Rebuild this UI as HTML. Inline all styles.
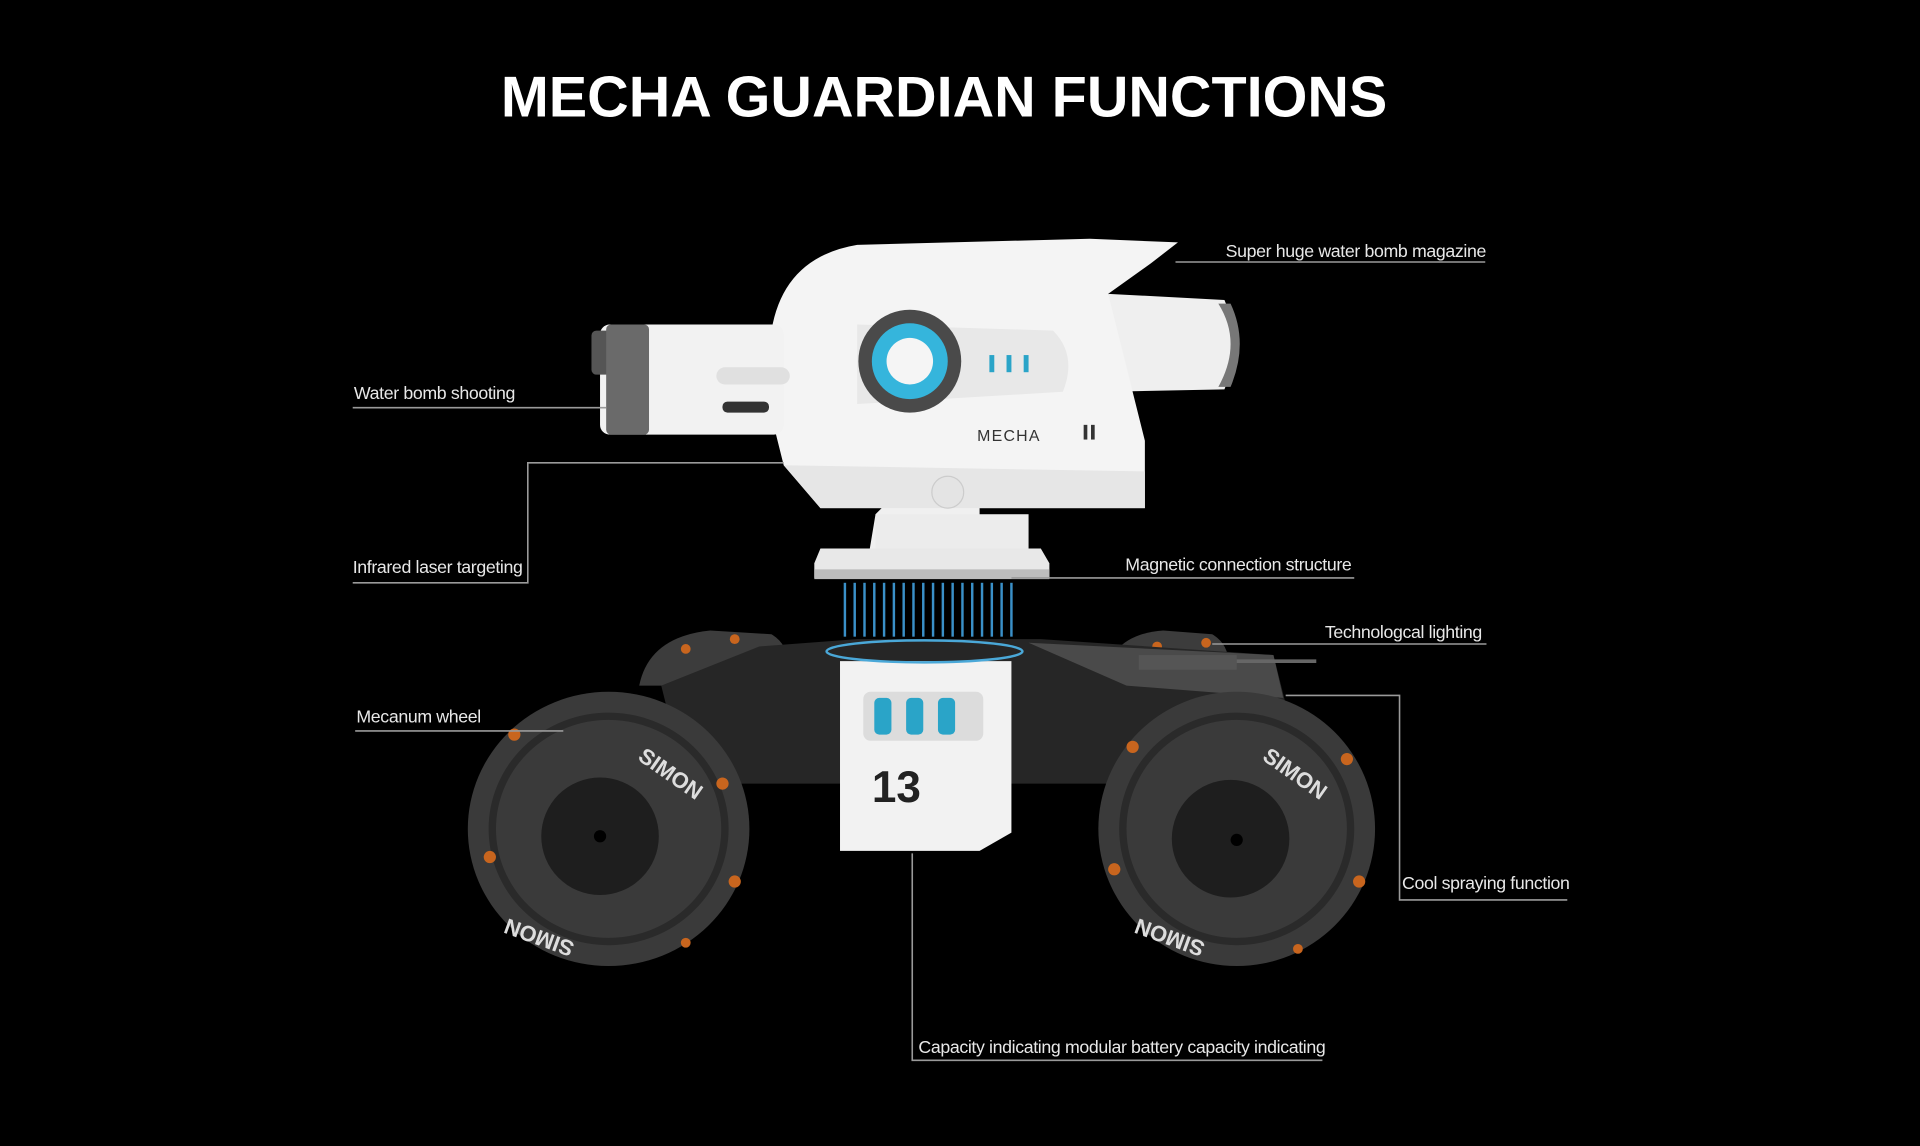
<!DOCTYPE html>
<html><head><meta charset="utf-8"><style>
html,body{margin:0;padding:0;background:#000;}
svg{display:block;}
.lb{font-family:"Liberation Sans",sans-serif;font-size:14.5px;fill:#e8e8e8;letter-spacing:-0.3px;}
.ln{stroke:#9a9a9a;stroke-width:1.3;fill:none;}
</style></head><body>
<svg width="1920" height="1146" viewBox="0 0 1568 936" xmlns="http://www.w3.org/2000/svg">
<rect width="1568" height="936" fill="#000"/>
<text x="771" y="95" text-anchor="middle" font-family="Liberation Sans,sans-serif" font-weight="bold" font-size="47" fill="#fff" letter-spacing="0">MECHA GUARDIAN FUNCTIONS</text>

<!-- back wheels -->
<path d="M522,560 Q530,520 580,515 L630,518 Q650,530 640,560 Z" fill="#3c3c3c"/>
<path d="M900,560 Q905,518 950,515 L990,518 Q1010,530 1000,560 Z" fill="#3c3c3c"/>
<circle cx="560" cy="530" r="4" fill="#c8651e"/><circle cx="600" cy="522" r="4" fill="#c8651e"/>
<circle cx="945" cy="528" r="4" fill="#c8651e"/><circle cx="985" cy="525" r="4" fill="#c8651e"/>
<!-- chassis -->
<path d="M540,560 L620,528 L700,522 L850,522 L1040,535 L1050,575 L1000,640 L560,640 Z" fill="#262626"/>
<path d="M840,525 L1040,535 L1048,570 L920,560 Z" fill="#4a4a4a"/>
<rect x="930" y="535" width="80" height="12" fill="#555"/>
<path d="M1010,540 L1075,540" stroke="#666" stroke-width="3"/>
<!-- wheels -->
<g>
<ellipse cx="497" cy="677" rx="115" ry="112" fill="#3a3a3a"/>
<ellipse cx="497" cy="677" rx="95" ry="92" fill="none" stroke="#2a2a2a" stroke-width="6"/>
<circle cx="490" cy="683" r="48" fill="#1e1e1e"/>
<circle cx="490" cy="683" r="5" fill="#000"/>
<circle cx="420" cy="600" r="5" fill="#c8651e"/><circle cx="590" cy="640" r="5" fill="#c8651e"/><circle cx="600" cy="720" r="5" fill="#c8651e"/><circle cx="400" cy="700" r="5" fill="#c8651e"/><circle cx="560" cy="770" r="4" fill="#c8651e"/>
<text x="520" y="620" font-family="Liberation Sans,sans-serif" font-size="18" font-weight="bold" fill="#ddd" transform="rotate(35 520 620)">SIMON</text>
<text x="470" y="770" font-family="Liberation Sans,sans-serif" font-size="18" font-weight="bold" fill="#ddd" transform="rotate(200 470 770)">SIMON</text>
</g>
<g>
<ellipse cx="1010" cy="677" rx="113" ry="112" fill="#3a3a3a"/>
<ellipse cx="1010" cy="677" rx="93" ry="92" fill="none" stroke="#2a2a2a" stroke-width="6"/>
<circle cx="1005" cy="685" r="48" fill="#1e1e1e"/>
<circle cx="1010" cy="686" r="5" fill="#000"/>
<circle cx="925" cy="610" r="5" fill="#c8651e"/><circle cx="1100" cy="620" r="5" fill="#c8651e"/><circle cx="1110" cy="720" r="5" fill="#c8651e"/><circle cx="910" cy="710" r="5" fill="#c8651e"/><circle cx="1060" cy="775" r="4" fill="#c8651e"/>
<text x="1030" y="620" font-family="Liberation Sans,sans-serif" font-size="18" font-weight="bold" fill="#ddd" transform="rotate(35 1030 620)">SIMON</text>
<text x="985" y="770" font-family="Liberation Sans,sans-serif" font-size="18" font-weight="bold" fill="#ddd" transform="rotate(200 985 770)">SIMON</text>
</g>
<!-- battery module -->
<path d="M686,540 L826,540 L826,680 L800,695 L686,695 Z" fill="#f2f2f2"/>
<rect x="705" y="565" width="98" height="40" rx="6" fill="#dcdcdc"/>
<rect x="714" y="570" width="14" height="30" rx="4" fill="#2aa4c8"/><rect x="740" y="570" width="14" height="30" rx="4" fill="#2aa4c8"/><rect x="766" y="570" width="14" height="30" rx="4" fill="#2aa4c8"/>
<text x="712" y="655" font-family="Liberation Sans,sans-serif" font-size="36" font-weight="bold" fill="#222">13</text>
<!-- magnetic ring -->
<ellipse cx="755" cy="532" rx="80" ry="9" fill="none" stroke="#4aa8d8" stroke-width="2"/>
<g stroke="#3a90c8" stroke-width="2">
<line x1="690" y1="476" x2="690" y2="520"/><line x1="698" y1="476" x2="698" y2="520"/><line x1="706" y1="476" x2="706" y2="520"/><line x1="714" y1="476" x2="714" y2="520"/><line x1="722" y1="476" x2="722" y2="520"/><line x1="730" y1="476" x2="730" y2="520"/><line x1="738" y1="476" x2="738" y2="520"/><line x1="746" y1="476" x2="746" y2="520"/><line x1="754" y1="476" x2="754" y2="520"/><line x1="762" y1="476" x2="762" y2="520"/><line x1="770" y1="476" x2="770" y2="520"/><line x1="778" y1="476" x2="778" y2="520"/><line x1="786" y1="476" x2="786" y2="520"/><line x1="794" y1="476" x2="794" y2="520"/><line x1="802" y1="476" x2="802" y2="520"/><line x1="810" y1="476" x2="810" y2="520"/><line x1="818" y1="476" x2="818" y2="520"/><line x1="826" y1="476" x2="826" y2="520"/>
</g>
<!-- neck -->
<path d="M710,450 L715,420 L745,390 L800,390 L800,450 Z" fill="#f0f0f0"/>
<rect x="715" y="420" width="125" height="32" fill="#ececec"/>
<path d="M670,448 L850,448 L857,460 L857,472 L665,472 L665,460 Z" fill="#e8e8e8"/>
<rect x="665" y="465" width="192" height="8" fill="#bdbdbd"/>
<!-- turret -->
<path d="M905,240 L1000,245 Q1015,280 1000,318 L905,320 Z" fill="#efefef"/>
<path d="M995,248 Q1015,280 995,316 L1005,316 Q1020,280 1005,248 Z" fill="#777"/>
<path d="M630,270 Q640,210 700,200 L890,195 L962,198 L940,215 L905,240 L935,360 L935,415 L670,415 L640,380 L630,340 Z" fill="#f4f4f4"/>
<path d="M640,380 L935,385 L935,415 L670,415 Z" fill="#e6e6e6"/>
<rect x="490" y="265" width="150" height="90" rx="8" fill="#f2f2f2"/>
<rect x="483" y="270" width="25" height="36" rx="4" fill="#555"/>
<rect x="495" y="265" width="35" height="90" rx="4" fill="#6a6a6a"/>
<rect x="585" y="300" width="60" height="14" rx="7" fill="#e0e0e0"/>
<rect x="590" y="328" width="38" height="9" rx="4" fill="#333"/>
<path d="M700,265 L860,270 Q880,290 868,320 L700,330 Z" fill="#e8e8e8"/>
<circle cx="743" cy="295" r="42" fill="#4a4a4a"/>
<circle cx="743" cy="295" r="31" fill="#35b5dc"/>
<circle cx="743" cy="295" r="19" fill="#f5f5f5"/>
<rect x="808" y="290" width="4" height="14" fill="#2aa4c8"/><rect x="822" y="290" width="4" height="14" fill="#2aa4c8"/><rect x="836" y="290" width="4" height="14" fill="#2aa4c8"/>
<text x="798" y="360" font-family="Liberation Sans,sans-serif" font-size="13" fill="#333" letter-spacing="1">MECHA</text>
<rect x="885" y="347" width="3" height="12" fill="#333"/><rect x="891" y="347" width="3" height="12" fill="#333"/>
<circle cx="774" cy="402" r="13" fill="#e4e4e4" stroke="#ccc"/>

<!-- callouts -->
<path class="ln" d="M960,214 L1213,214"/>
<text class="lb" x="1001" y="210">Super huge water bomb magazine</text>
<path class="ln" d="M288,333 L495,333"/>
<text class="lb" x="289" y="326">Water bomb shooting</text>
<path class="ln" d="M288,476 L431,476 L431,378 L640,378"/>
<text class="lb" x="288" y="468">Infrared laser targeting</text>
<path class="ln" d="M826,472 L1106,472"/>
<text class="lb" x="919" y="466">Magnetic connection structure</text>
<path class="ln" d="M990,526 L1214,526"/>
<text class="lb" x="1082" y="521">Technologcal lighting</text>
<path class="ln" d="M290,597 L460,597"/>
<text class="lb" x="291" y="590">Mecanum wheel</text>
<path class="ln" d="M1050,568 L1143,568 L1143,735 L1280,735"/>
<text class="lb" x="1145" y="726">Cool spraying function</text>
<path class="ln" d="M745,697 L745,866 L1080,866"/>
<text class="lb" x="750" y="860">Capacity indicating modular battery capacity indicating</text>
</svg>
</body></html>
